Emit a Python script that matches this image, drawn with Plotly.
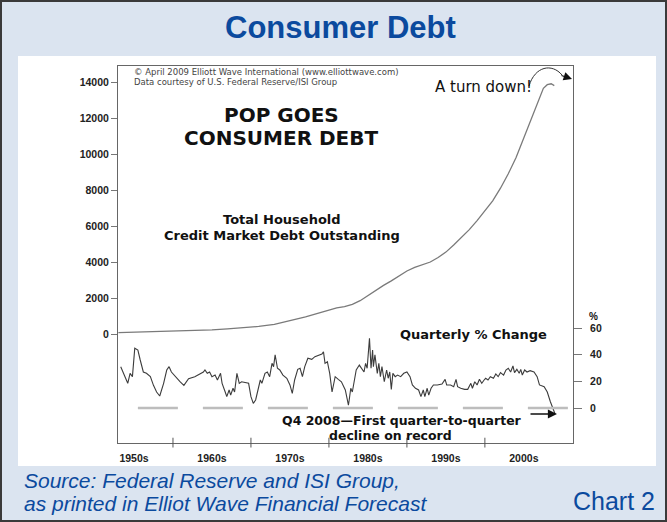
import plotly.graph_objects as go

# Total household credit market debt outstanding ($ billions)
debt_year = [1953, 1955, 1957, 1959, 1961, 1963, 1965, 1967, 1969, 1971, 1973, 1975,
             1977, 1979, 1980, 1981, 1982, 1983, 1984, 1985, 1986, 1987, 1988, 1989,
             1990, 1991, 1992, 1993, 1994, 1995, 1996, 1997, 1998, 1999, 2000, 2001,
             2002, 2003, 2004, 2005, 2006, 2007, 2007.5, 2008, 2008.5, 2008.9]
debt_value = [80, 100, 120, 140, 160, 185, 230, 290, 350, 420, 540, 730,
              950, 1200, 1330, 1450, 1520, 1650, 1850, 2150, 2450, 2700, 2950, 3250,
              3500, 3700, 3850, 4000, 4250, 4550, 4950, 5350, 5800, 6300, 6850, 7400,
              8100, 8900, 9800, 10900, 12100, 13200, 13650, 13850, 13900, 13800]

# Quarterly % change (annualised)
pct_year = [1953.3, 1953.8, 1954.2, 1954.5, 1954.8, 1955.1, 1955.5, 1955.8, 1956.2, 1956.6,
            1957.1, 1957.5, 1957.9, 1958.3, 1958.8, 1959.2, 1959.5, 1959.8, 1960.3, 1960.9,
            1961.4, 1962.0, 1962.8, 1963.5, 1963.9, 1964.1, 1964.4, 1964.7, 1965.0, 1965.4,
            1965.7, 1966.1, 1966.3, 1966.7, 1966.9, 1967.2, 1967.4, 1967.7, 1967.9, 1968.2,
            1968.5, 1968.8, 1969.3, 1969.7, 1970.0, 1970.3, 1970.6, 1970.9, 1971.2, 1971.4,
            1971.8, 1972.1, 1972.4, 1972.7, 1972.9, 1973.1, 1973.4, 1973.7, 1974.1, 1974.6,
            1975.0, 1975.3, 1975.6, 1976.0, 1976.3, 1976.6, 1976.9, 1977.3, 1977.8, 1978.2,
            1978.7, 1979.1, 1979.3, 1979.5, 1979.8, 1980.1, 1980.4, 1980.8, 1981.2, 1981.6,
            1982.1, 1982.5, 1982.6, 1982.8, 1983.0, 1983.2, 1983.5, 1983.9, 1984.2, 1984.5,
            1984.7, 1984.9, 1985.2, 1985.4, 1985.6, 1985.7, 1985.9, 1986.2, 1986.4, 1986.6,
            1986.8, 1987.1, 1987.4, 1987.6, 1987.8, 1988.0, 1988.2, 1988.5, 1988.8, 1989.2,
            1989.6, 1990.0, 1990.4, 1990.7, 1991.1, 1991.5, 1991.8, 1992.1, 1992.3, 1992.6,
            1992.8, 1993.1, 1993.4, 1993.9, 1994.5, 1994.9, 1995.1, 1995.6, 1996.0, 1996.3,
            1996.5, 1996.9, 1997.4, 1997.8, 1998.2, 1998.4, 1998.7, 1999.0, 1999.3, 1999.6,
            1999.9, 2000.1, 2000.4, 2000.7, 2001.1, 2001.4, 2001.7, 2002.0, 2002.4, 2002.7,
            2003.0, 2003.3, 2003.6, 2003.8, 2004.1, 2004.4, 2004.6, 2004.8, 2005.1, 2005.4,
            2005.8, 2006.3, 2006.7, 2007.0, 2007.6, 2008.0, 2008.4, 2008.7, 2009.0]
pct_value = [31, 24.7, 18.5, 26, 23.5, 44.8, 43.5, 36, 27, 26,
             23.5, 17, 12, 9, 18.5, 28.5, 31, 27, 23.5, 19.7,
             17, 22, 23.5, 25.5, 27, 28.5, 26, 27, 23.5, 24.7,
             21, 26, 18.5, 12, 8.5, 13.5, 9.7, 14.8, 12, 26,
             18.5, 19.7, 19, 18.5, 8.5, 3.5, 6, 14.8, 21, 18.5,
             26, 27, 23.5, 33.5, 31, 39.8, 29.8, 28.5, 24.7, 22.3,
             17.3, 11, 21, 29, 29.8, 23.5, 31, 37.3, 36.5, 38.5,
             39.8, 40.5, 42.2, 33.5, 34.7, 26, 12, 23.5, 21.5, 19.7,
             13.5, 2.2, 6, 14.8, 12, 18.5, 28.5, 32.2, 29.8, 27,
             33.5, 29.8, 52.3, 29.8, 43.5, 31, 39.8, 26, 33.5, 23.5,
             31, 19.7, 28.5, 22.3, 27, 14, 26, 23.5, 24.7, 23.5,
             26, 27, 23.5, 17.3, 14.8, 13.5, 8.5, 13.5, 8.5, 14.8,
             9.7, 14.8, 17.3, 17.3, 18, 21.5, 17.3, 17.3, 16, 21.5,
             16, 14.8, 14, 14, 18.5, 14.8, 19.7, 17.3, 21.5, 18.5,
             21, 22.3, 21, 23.5, 22.3, 25.5, 23.5, 26.5, 24.7, 28.5,
             29.8, 27, 31.5, 26.5, 29, 26, 29, 24.7, 28.5, 27,
             28, 27, 23.5, 17.3, 16, 12, 4.7, -0.2, -4.5]

decade_ticks = [1960, 1970, 1980, 1990, 2000]
decade_label_pos = [1955, 1965, 1975, 1985, 1995, 2005]
decade_labels = ["1950s", "1960s", "1970s", "1980s", "1990s", "2000s"]
debt_ticks = [0, 2000, 4000, 6000, 8000, 10000, 12000, 14000]
pct_ticks = [0, 20, 40, 60]

W, H = 667, 522
L, R, T, B = 118, 573, 66, 443   # plot box in page pixels


def fx(p):
    return (p - L) / (R - L)


def fy(p):
    return (B - p) / (B - T)


BLUE = "#0b4a9e"
SANS = "Liberation Sans, Arial"
BOLD = "DejaVu Sans, Verdana"
TICKFONT = dict(family=SANS, size=10.5, color="#222", weight="bold")

fig = go.Figure()
fig.add_trace(go.Scatter(x=debt_year, y=debt_value, mode="lines",
                         line=dict(color="#7a7a7a", width=1.3), hoverinfo="skip"))
fig.add_trace(go.Scatter(x=pct_year, y=pct_value, mode="lines", yaxis="y2",
                         line=dict(color="#3c3c3c", width=1.1), hoverinfo="skip"))

shapes = [
    # slide frame and white panel
    dict(type="rect", xref="paper", yref="paper", layer="below",
         x0=fx(1), x1=fx(W - 1), y0=fy(H - 1), y1=fy(1),
         line=dict(color="#3a3a3a", width=2), fillcolor="#dbe4f0"),
    dict(type="rect", xref="paper", yref="paper", layer="below",
         x0=fx(18), x1=fx(656), y0=fy(466), y1=fy(56),
         line=dict(width=0), fillcolor="white"),
    # zero reference for the % change panel
    dict(type="line", xref="x", yref="y2", x0=1955.5, x1=2011.4, y0=0, y1=0,
         line=dict(color="#bdbdbd", width=2.5, dash="40px,25px")),
    # curved pointer for "A turn down!"
    dict(type="path", xref="paper", yref="paper",
         path=f"M {fx(529)},{fy(86)} C {fx(535)},{fy(66)} {fx(552)},{fy(63)} {fx(562)},{fy(75)}",
         line=dict(color="#333", width=1)),
]
for d in decade_ticks:
    shapes.append(dict(type="line", xref="x", yref="paper", x0=d, x1=d,
                       y0=-0.012, y1=0.014, line=dict(color="#555", width=1)))


def txt(text, x, y, size, family=BOLD, color="#111", xanchor="center", bold=True, italic=False):
    return dict(text=text, xref="paper", yref="paper", x=fx(x), y=fy(y),
                xanchor=xanchor, yanchor="middle", showarrow=False,
                font=dict(family=family, size=size, color=color,
                          weight="bold" if bold else "normal",
                          style="italic" if italic else "normal"))


ann = [
    txt("Consumer Debt", 340, 27, 31, family=SANS, color=BLUE),
    txt("Source: Federal Reserve and ISI Group,", 22, 480, 21, family=SANS,
        color=BLUE, xanchor="left", bold=False, italic=True),
    txt("as printed in Elliot Wave Financial Forecast", 22, 503, 21, family=SANS,
        color=BLUE, xanchor="left", bold=False, italic=True),
    txt("Chart 2", 657, 501, 25, family=SANS, color=BLUE, xanchor="right", bold=False),
    txt("© April 2009 Elliott Wave International (www.elliottwave.com)", 132, 72, 8.5,
        family="DejaVu Sans", color="#444", xanchor="left", bold=False),
    txt("Data courtesy of U.S. Federal Reserve/ISI Group", 132, 82.5, 8.5,
        family="DejaVu Sans", color="#444", xanchor="left", bold=False),
    txt("POP GOES", 281, 115, 20),
    txt("CONSUMER DEBT", 281, 138, 20),
    txt("Total Household", 282, 220, 13),
    txt("Credit Market Debt Outstanding", 282, 236, 13),
    txt("A turn down!", 483, 87, 15, family="DejaVu Sans", bold=False),
    txt("Quarterly % Change", 473, 335, 13),
    txt("Q4 2008\u2014First quarter-to-quarter", 402, 420, 12.5),
    txt("decline on record", 390, 435, 12.5),
    txt("%", 593, 316, 10, family=SANS),
    # arrow heads
    dict(xref="paper", yref="paper", x=fx(572), y=fy(79), ax=-12, ay=-4, text="",
         showarrow=True, arrowhead=2, arrowsize=1.4, arrowwidth=1.2, arrowcolor="#111"),
    dict(xref="paper", yref="paper", x=fx(557), y=fy(414), ax=-28, ay=0, text="",
         showarrow=True, arrowhead=2, arrowsize=1.3, arrowwidth=1.4, arrowcolor="#111"),
]

fig.update_layout(
    width=W, height=H,
    margin=dict(l=L, r=W - R, t=T, b=H - B, pad=0),
    paper_bgcolor="#dbe4f0", plot_bgcolor="white",
    showlegend=False,
    shapes=shapes, annotations=ann,
    xaxis=dict(range=[1952.95, 2011.3], tickvals=decade_label_pos, ticktext=decade_labels,
               ticks="", showgrid=False, zeroline=False, showline=True, mirror=True,
               linecolor="#666", linewidth=1, tickfont=TICKFONT, ticklabelstandoff=5),
    yaxis=dict(range=[-6055, 14889], tickvals=debt_ticks, tickformat="d",
               ticks="outside", ticklen=6, tickcolor="#777", showgrid=False,
               zeroline=False, showline=True, mirror=True, linecolor="#666",
               linewidth=1, tickfont=TICKFONT),
    yaxis2=dict(range=[-26.25, 256.5], overlaying="y", side="right", tickvals=pct_ticks,
                ticks="outside", ticklen=8, tickcolor="#777", showgrid=False,
                zeroline=False, showline=False, tickfont=TICKFONT, ticklabelstandoff=6),
)

fig.write_html("out.html")
